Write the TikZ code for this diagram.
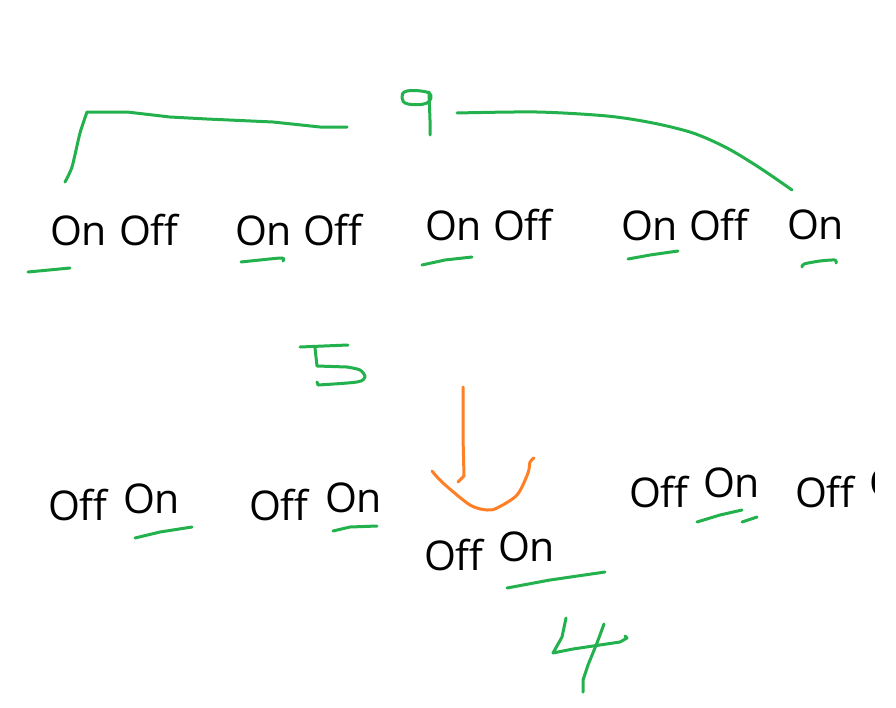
\documentclass[tikz,border=0pt]{standalone}
\usepackage{fontspec}
\setmainfont{Open Sans}
\definecolor{pen}{HTML}{22B14C}
\definecolor{orng}{HTML}{FF7F27}
\tikzset{
  word/.style={anchor=base west, inner sep=0pt, outer sep=0pt, font=\fontsize{41}{41}\selectfont, text=black},
  ink/.style={draw=pen, line width=3pt, line cap=round, line join=round},
  oink/.style={draw=orng, line width=3pt, line cap=round, line join=round}
}
\begin{document}
\begin{tikzpicture}[x=1pt,y=-1pt]
\useasboundingbox (0,0) rectangle (896,707);
% top row
\node[word] (a1) at (50,245) {On};
\node[word] (a2) at (119,245) {Off};
\node[word] (b1) at (235,245) {On};
\node[word] (b2) at (303,245) {Off};
\node[word] (c1) at (425,240) {On};
\node[word] (c2) at (493,240) {Off};
\node[word] (d1) at (621,240) {On};
\node[word] (d2) at (689,240) {Off};
\node[word] (e1) at (787,239) {On};
% bottom row
\node[word] (f1) at (48,520) {Off};
\node[word] (f2) at (123,513) {On};
\node[word] (g1) at (249,520) {Off};
\node[word] (g2) at (325,512) {On};
\node[word] (h1) at (424,570) {Off};
\node[word] (h2) at (498,561) {On};
\node[word] (i1) at (629,507) {Off};
\node[word] (i2) at (703,497) {On};
\node[word] (j1) at (795,507) {Off};
\begin{scope}
\clip (0,0) rectangle (874,707);
\node[word] (j2) at (869,497) {On};
\end{scope}
% top bracket
\draw[ink] plot[smooth, tension=0.4] coordinates {(65,182) (72,167) (80,133) (87,112)}
  -- (127,112) -- (170,117) -- (207,119) -- (273,122) -- (320,127) -- (347,127);
\draw[ink] plot[smooth] coordinates {(457,113) (537,112) (607,116) (653,123) (693,133) (727,148) (760,168) (792,190)};
% the 9
\draw[ink] plot[smooth cycle, tension=0.7] coordinates {(429,93) (407,91) (402,98) (408,104) (427,103)};
\draw[ink] (429,92) -- (430,120) -- (430,135);
% underlines top
\draw[ink] (28,272) -- (70,268);
\draw[ink] plot[smooth] coordinates {(241,262) (260,260) (282,258) (283,261)};
\draw[ink] (422,265) -- (445,260) -- (472,257);
\draw[ink] (628,259) -- (650,255) -- (678,251);
\draw[ink] plot[smooth] coordinates {(802,267) (804,264) (820,261) (835,260) (836,263)};
% the 5
\draw[ink] (300,347) -- (348,345);
\draw[ink] (315,348) -- (317,366) -- (347,367);
\draw[ink] plot[smooth] coordinates {(347,367) (360,370) (365,377) (357,382) (318,385)};
\draw[ink] (318,385) -- (317,382);
% orange arrow
\draw[oink] (463,387) -- (463,437) -- (464,476) -- (458,482);
\draw[oink] plot[smooth] coordinates {(432,471) (443,483) (470,505) (487,510) (497,508) (517,495) (528,473) (530,462) (534,458)};
% underlines bottom
\draw[ink] (135,538) -- (160,532) -- (192,527);
\draw[ink] (333,531) -- (350,527) -- (377,526);
\draw[ink] (507,588) -- (550,580) -- (605,572);
\draw[ink] (697,522) -- (720,515) -- (742,510);
\draw[ink] (742,522) -- (757,517);
% the 4
\draw[ink] (566,618) -- (562,637) -- (553,653) -- (573,649) -- (593,646) -- (620,642) -- (627,638) -- (625,636);
\draw[ink] (604,624) -- (597,643) -- (588,665) -- (583,680) -- (583,692);
\end{tikzpicture}
\end{document}
